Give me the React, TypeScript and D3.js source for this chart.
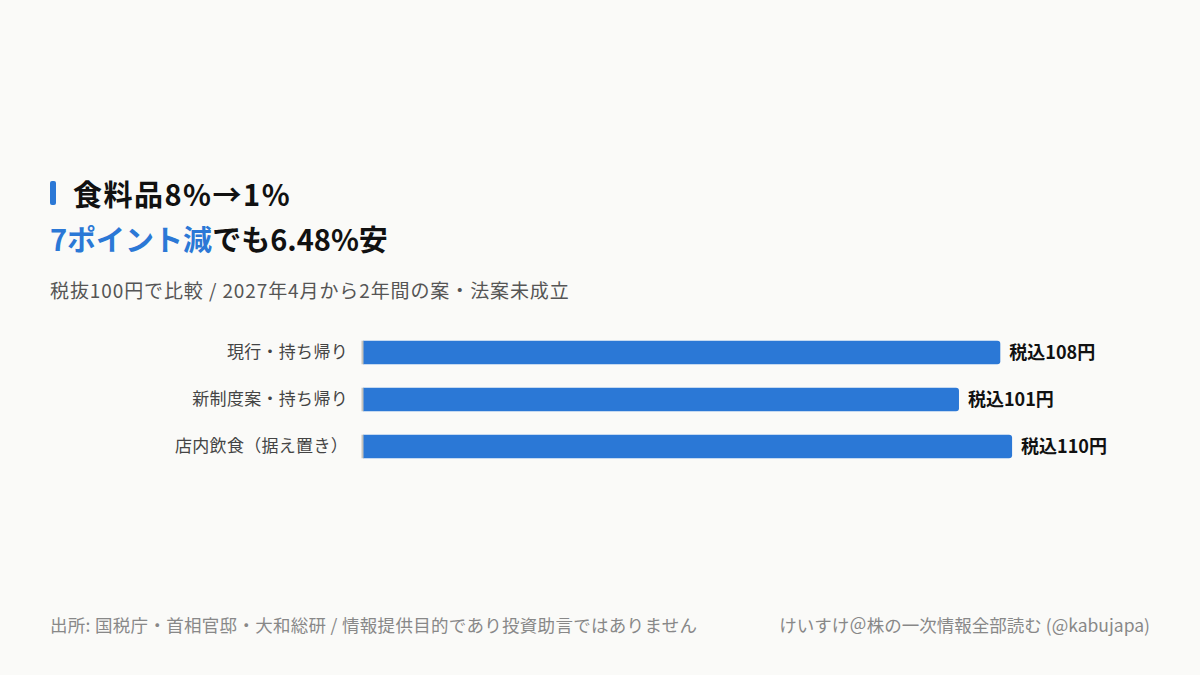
import React from "react";
import * as d3 from "d3";

const categories = ["現行・持ち帰り", "新制度案・持ち帰り", "店内飲食（据え置き）"];
const values = [108, 101, 110];
const valueLabels = ["税込108円", "税込101円", "税込110円"];

const W = 1200;
const H = 675;
const FONT = "'Noto Sans CJK JP', 'Noto Sans', sans-serif";
const BLUE = "#2b78d6";

export default function App() {
  const x = d3.scaleLinear().domain([0, 121]).range([363, 1077]);
  const y = d3.scaleBand<string>().domain(categories).range([329, 470]).paddingInner(0.5).paddingOuter(0.25);
  const bh = y.bandwidth();
  return (
    <svg width={W} height={H} style={{ position: "absolute", left: 0, top: 0, background: "#fafaf8" }} fontFamily={FONT}>
      <rect x={0} y={0} width={W} height={H} fill="#fafaf8" />
      <rect x={50} y={181} width={6} height={24} rx={2} fill={BLUE} />
      <text x={73} y={206} fontSize={29} fontWeight={700} fill="#111" letterSpacing={1.5}>食料品8%→1%</text>
      <text x={50} y={251} fontSize={29} fontWeight={700} fill="#111">
        <tspan fill={BLUE}>7ポイント減</tspan>
        <tspan>でも6.48%安</tspan>
      </text>
      <text x={50} y={298} fontSize={19} fill="#555" letterSpacing={0.9}>税抜100円で比較 / 2027年4月から2年間の案・法案未成立</text>
      {categories.map((c, i) => {
        const yy = y(c)!;
        const x0 = x(0);
        const x1 = x(values[i]);
        const r = 3;
        const path = `M${x0},${yy} H${x1 - r} Q${x1},${yy} ${x1},${yy + r} V${yy + bh - r} Q${x1},${yy + bh} ${x1 - r},${yy + bh} H${x0} Z`;
        return (
          <g key={c}>
            <path d={path} fill={BLUE} />
            <rect x={x0 - 1.5} y={yy} width={2} height={bh} fill="#c8c4bc" />
            <text x={348} y={yy + bh / 2} dy="0.35em" textAnchor="end" fontSize={17} fill="#444" letterSpacing={0.3}>{c}</text>
            <text x={x1 + 9} y={yy + bh / 2} dy="0.35em" fontSize={18} fontWeight={700} fill="#111">{valueLabels[i]}</text>
          </g>
        );
      })}
      <text x={50} y={632} fontSize={17.5} fill="#888" letterSpacing={0.3}>出所: 国税庁・首相官邸・大和総研 / 情報提供目的であり投資助言ではありません</text>
      <text x={1150} y={632} textAnchor="end" fontSize={17.5} fill="#888">けいすけ＠株の一次情報全部読む (@kabujapa)</text>
    </svg>
  );
}
